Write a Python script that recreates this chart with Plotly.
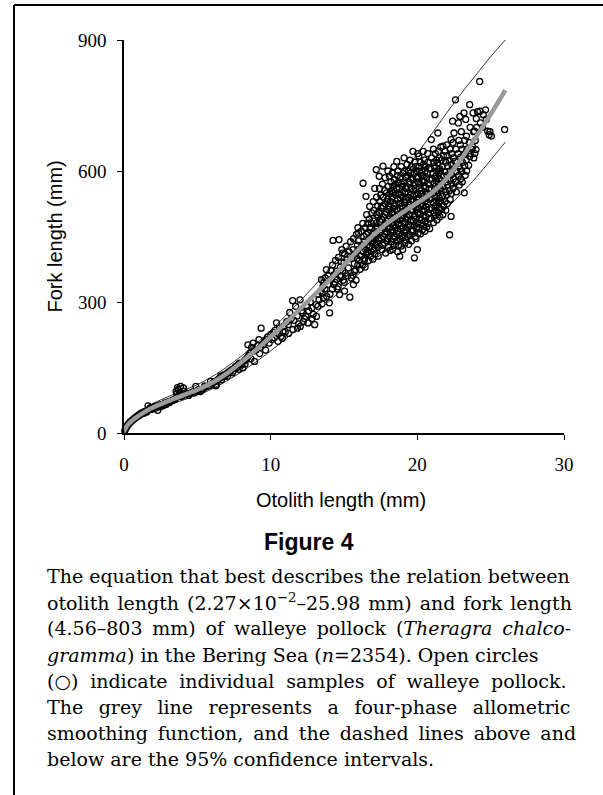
import plotly.graph_objects as go

# ---------------- data ----------------
# small fish, otolith 0-6 mm
juv_otolith = [0.05, 0.1, 0.15, 0.2, 0.25, 0.3, 0.35, 0.4, 0.45, 0.5, 0.55, 0.6, 0.65, 0.7, 0.75, 0.8,
               0.85, 0.9, 0.95, 1.0, 1.05, 1.1, 1.15, 1.2, 1.25, 1.3, 1.35, 1.4, 1.5, 1.55, 1.6, 1.64,
               1.7, 1.75, 1.8, 1.85, 1.9, 2.0, 2.05, 2.1, 2.2, 2.25, 2.3, 2.4, 2.45, 2.5, 2.6, 2.7,
               2.75, 2.8, 2.9, 3.0, 3.1, 3.2, 3.3, 3.4, 3.5, 3.55, 3.6, 3.65, 3.7, 3.8, 3.85, 3.9,
               4.0, 4.05, 4.1, 4.2, 4.3, 4.4, 4.5, 4.7, 4.8, 4.9, 5.0, 5.1, 5.2, 5.3, 5.4, 5.5, 5.6, 5.9]
juv_fork = [5, 9, 12, 15, 18, 20, 22, 24, 26, 27, 29, 30, 32, 33, 35, 36,
            37, 38, 40, 41, 40, 43, 45, 44, 46, 47, 45, 49, 50, 48, 52, 62,
            53, 56, 58, 54, 57, 59, 56, 61, 58, 62, 52, 63, 60, 65, 62, 66,
            64, 69, 66, 71, 70, 73, 75, 76, 78, 95, 90, 104, 99, 92, 107, 83,
            86, 103, 96, 88, 90, 86, 91, 94, 92, 107, 97, 100, 95, 98, 101, 108, 106, 118]

# otolith 5.8-10.5 mm
mid_otolith = [5.8, 6.0, 6.1, 6.2, 6.25, 6.3, 6.4, 6.5, 6.6, 6.65, 6.7, 6.8, 6.9, 7.0, 7.05, 7.1,
               7.2, 7.3, 7.4, 7.45, 7.5, 7.6, 7.7, 7.8, 7.85, 7.9, 8.0, 8.1, 8.2, 8.25, 8.3, 8.4,
               8.45, 8.5, 8.6, 8.65, 8.7, 8.8, 8.85, 8.9, 9.0, 9.1, 9.2, 9.25, 9.3, 9.35, 9.5, 9.6,
               9.65, 9.7, 9.8, 9.9, 10.0, 10.1, 10.2, 10.25, 10.5]
mid_fork = [108, 112, 116, 118, 108, 110, 122, 125, 130, 122, 128, 133, 131, 136, 130, 139,
            141, 144, 138, 142, 148, 152, 150, 157, 146, 160, 156, 149, 165, 158, 168, 172,
            202, 178, 183, 170, 196, 206, 188, 164, 190, 200, 214, 182, 196, 240, 202, 209,
            190, 214, 220, 206, 225, 214, 230, 218, 210]

# otolith 10.3-16 mm
sub_otolith = [10.3, 10.4, 10.5, 10.6, 10.7, 10.8, 10.82, 10.9, 11.0, 11.1, 11.2, 11.22, 11.3, 11.4,
               11.5, 11.52, 11.6, 11.7, 11.8, 11.82, 11.9, 12.0, 12.02, 12.1, 12.2, 12.22, 12.3, 12.4,
               12.5, 12.55, 12.6, 12.7, 12.8, 12.82, 12.9, 13.0, 13.1, 13.12, 13.2, 13.22, 13.3, 13.4,
               13.46, 13.5, 13.52, 13.57, 13.6, 13.62, 13.7, 13.72, 13.8, 13.82, 13.9, 13.92, 14.0,
               14.02, 14.04, 14.1, 14.12, 14.2, 14.22, 14.25, 14.3, 14.32, 14.4, 14.42, 14.5, 14.52,
               14.54, 14.6, 14.62, 14.66, 14.7, 14.72, 14.75, 14.8, 14.82, 14.85, 14.9, 14.92, 14.95,
               15.0, 15.02, 15.04, 15.05, 15.1, 15.15, 15.2, 15.25, 15.3, 15.35, 15.4, 15.42, 15.45,
               15.5, 15.55, 15.6, 15.62, 15.64, 15.65, 15.7, 15.72, 15.75, 15.8, 15.82, 15.85, 15.9,
               15.92, 15.94, 15.95]
sub_fork = [235, 252, 228, 240, 221, 217, 232, 245, 232, 255, 248, 228, 276, 262,
            303, 237, 258, 290, 268, 240, 250, 305, 244, 280, 275, 255, 262, 267,
            290, 252, 280, 300, 286, 262, 272, 248, 294, 267, 318, 290, 305, 325,
            351, 296, 320, 336, 310, 345, 330, 355, 374, 313, 340, 360, 298,
            275, 318, 352, 372, 330, 385, 441, 362, 340, 345, 395, 370, 352,
            330, 335, 402, 443, 317, 360, 380, 358, 392, 420, 412, 372, 350,
            390, 345, 325, 410, 366, 428, 397, 360, 378, 415, 311, 405, 438,
            355, 400, 361, 420, 340, 445, 388, 370, 410, 374, 350, 455, 400,
            430, 385, 470]

# dense adult cluster, otolith 16-26 mm
adult_otolith = [
    16.0, 15.95, 16.05, 16.1, 15.98, 16.22, 16.15, 16.25, 16.18, 16.28, 16.3, 16.35, 16.32, 16.38,
    16.45, 16.42, 16.48, 16.4, 16.44, 16.5, 16.55, 16.52, 16.58, 16.53, 16.62, 16.65, 16.68, 16.6, 16.66,
    16.75, 16.72, 16.78, 16.8, 16.74, 16.82, 16.9, 16.88, 16.95, 16.92, 16.86, 16.97,
    17.0, 17.04, 17.02, 17.06, 16.99, 17.05, 17.1, 17.14, 17.12, 17.16, 17.11,
    17.2, 17.22, 17.25, 17.18, 17.24, 17.21, 17.3, 17.34, 17.28, 17.36, 17.32, 17.33,
    17.4, 17.42, 17.45, 17.38, 17.44, 17.47, 17.41, 17.5, 17.53, 17.56, 17.52, 17.55, 17.58,
    17.66, 17.62, 17.68, 17.64, 17.7, 17.65, 17.69, 17.63, 17.8, 17.77, 17.83, 17.79, 17.85, 17.81, 17.76, 17.84,
    17.9, 17.93, 17.88, 17.95, 17.91, 17.96, 18.0, 18.03, 17.98, 18.05, 18.02, 18.06, 17.99, 18.04,
    18.1, 18.13, 18.08, 18.15, 18.12, 18.09, 18.14, 18.2, 18.23, 18.18, 18.25, 18.22, 18.19, 18.24,
    18.3, 18.33, 18.28, 18.35, 18.32, 18.29, 18.34, 18.31, 18.4, 18.43, 18.38, 18.45, 18.42, 18.39, 18.44, 18.41,
    18.5, 18.53, 18.48, 18.55, 18.52, 18.49, 18.6, 18.63, 18.58, 18.65, 18.62, 18.59, 18.64, 18.61, 18.66,
    18.7, 18.73, 18.68, 18.75, 18.72, 18.69, 18.74, 18.71, 18.8, 18.83, 18.78, 18.85, 18.82, 18.79, 18.84, 18.81,
    18.9, 18.93, 18.88, 18.95, 18.92, 18.89, 18.94, 18.91, 19.0, 19.03, 18.98, 19.05, 19.02, 18.99, 19.04, 19.01,
    19.1, 19.13, 19.08, 19.15, 19.12, 19.09, 19.14, 19.11, 19.16, 19.2, 19.23, 19.18, 19.25, 19.22, 19.19, 19.24,
    19.3, 19.33, 19.28, 19.35, 19.32, 19.29, 19.34, 19.31, 19.4, 19.43, 19.38, 19.45, 19.42, 19.39, 19.44, 19.41,
    19.5, 19.53, 19.48, 19.55, 19.52, 19.49, 19.54, 19.51, 19.6, 19.63, 19.58, 19.65, 19.62, 19.59, 19.64, 19.61,
    19.7, 19.73, 19.68, 19.75, 19.72, 19.69, 19.74, 19.71, 19.8, 19.83, 19.78, 19.85, 19.82, 19.79, 19.84, 19.81, 19.86,
    19.9, 19.93, 19.88, 19.95, 19.92, 19.89, 19.94, 19.91, 20.0, 20.03, 19.98, 20.05, 20.02, 19.99, 20.04, 20.01, 20.06,
    20.1, 20.13, 20.08, 20.15, 20.12, 20.09, 20.14, 20.11, 20.2, 20.23, 20.18, 20.25, 20.22, 20.19, 20.24, 20.21,
    20.3, 20.33, 20.28, 20.35, 20.32, 20.29, 20.34, 20.4, 20.43, 20.38, 20.45, 20.42, 20.39, 20.44, 20.41,
    20.5, 20.53, 20.48, 20.55, 20.52, 20.49, 20.54, 20.51, 20.6, 20.63, 20.58, 20.65, 20.62, 20.59, 20.64,
    20.7, 20.73, 20.68, 20.75, 20.72, 20.69, 20.74, 20.71, 20.8, 20.83, 20.78, 20.85, 20.82, 20.79, 20.84,
    20.95, 20.98, 20.92, 21.0, 20.96, 20.93, 20.99, 20.94, 21.1, 21.13, 21.08, 21.15, 21.12, 21.09, 21.14, 21.11,
    21.2, 21.23, 21.18, 21.25, 21.22, 21.19, 21.24, 21.21, 21.3, 21.33, 21.28, 21.35, 21.32, 21.29, 21.34,
    21.4, 21.43, 21.38, 21.45, 21.42, 21.39, 21.44, 21.41, 21.5, 21.53, 21.48, 21.55, 21.52, 21.49, 21.54,
    21.6, 21.63, 21.58, 21.65, 21.62, 21.59, 21.64, 21.75, 21.78, 21.72, 21.8, 21.76, 21.73, 21.79, 21.74,
    21.9, 21.93, 21.88, 21.95, 21.92, 21.89, 21.94, 22.0, 22.03, 22.06, 22.02, 22.05, 22.01, 22.04,
    22.2, 22.23, 22.18, 22.25, 22.22, 22.19, 22.24, 22.3, 22.33, 22.35, 22.32, 22.36, 22.31,
    22.4, 22.43, 22.45, 22.42, 22.46, 22.44, 22.6, 22.63, 22.58, 22.65, 22.62, 22.66,
    22.8, 22.83, 22.78, 22.85, 22.82, 22.86, 22.9, 22.93, 22.95, 22.92, 22.96,
    23.0, 23.05, 23.08, 23.03, 23.06, 23.2, 23.18, 23.22, 23.25, 23.23, 23.27,
    23.3, 23.35, 23.38, 23.33, 23.36, 23.57, 23.6, 23.55, 23.62, 23.58, 23.5,
    23.8, 23.83, 23.78, 23.85, 23.9, 23.95, 23.92, 23.7, 24.0, 24.05, 24.02, 24.1,
    24.25, 24.27, 24.3, 24.5, 24.45, 24.7, 24.65, 24.8, 24.9, 24.95, 25.05, 25.95, 22.3, 22.5]
adult_fork = [
    458, 420, 395, 375, 440, 430, 405, 385, 462, 480, 572, 450, 415, 395,
    470, 440, 420, 400, 380, 542, 500, 455, 430, 410, 480, 460, 440, 415, 395,
    519, 490, 470, 445, 425, 405, 504, 480, 455, 435, 415, 398,
    530, 510, 485, 462, 440, 420, 560, 470, 450, 430, 410,
    603, 540, 500, 480, 455, 435, 520, 495, 470, 445, 425, 405,
    588, 560, 530, 505, 485, 460, 440, 545, 515, 490, 465, 445, 420,
    611, 570, 540, 520, 495, 470, 450, 430, 585, 555, 525, 500, 478, 455, 435, 412,
    550, 530, 505, 485, 460, 440, 600, 565, 535, 512, 490, 468, 445, 425,
    588, 548, 520, 495, 472, 450, 418, 575, 555, 530, 505, 480, 460, 438,
    595, 565, 540, 515, 490, 465, 445, 420, 610, 580, 550, 525, 500, 475, 452, 430,
    570, 545, 520, 495, 470, 448, 622, 590, 560, 535, 510, 488, 462, 440, 415,
    600, 575, 550, 525, 500, 478, 455, 430, 405, 585, 560, 538, 515, 490, 468, 445,
    610, 570, 545, 520, 498, 475, 452, 428, 420, 595, 565, 540, 515, 492, 470, 448,
    630, 600, 575, 550, 528, 505, 482, 460, 435, 585, 560, 535, 512, 490, 465, 442,
    615, 590, 565, 540, 518, 495, 472, 450, 600, 575, 550, 525, 500, 478, 455, 432,
    625, 595, 570, 545, 522, 498, 475, 452, 610, 585, 560, 535, 512, 488, 465, 440,
    645, 605, 580, 555, 530, 508, 485, 462, 401, 620, 595, 570, 545, 520, 498, 475, 450,
    610, 585, 560, 535, 512, 490, 468, 445, 420, 640, 600, 575, 550, 528, 505, 482, 458,
    634, 610, 585, 560, 538, 515, 492, 470, 620, 595, 570, 548, 525, 502, 480, 456,
    600, 578, 555, 532, 510, 488, 465, 645, 615, 590, 565, 542, 520, 498, 475,
    625, 600, 575, 552, 530, 508, 485, 462, 610, 585, 562, 540, 518, 495, 472,
    640, 620, 595, 570, 548, 525, 502, 480, 605, 580, 558, 535, 512, 490, 468,
    672, 630, 605, 582, 560, 538, 515, 492, 650, 620, 595, 572, 550, 528, 505, 482,
    729, 640, 610, 588, 565, 542, 520, 498, 625, 600, 578, 555, 532, 510, 488,
    687, 645, 618, 595, 572, 550, 528, 505, 630, 605, 582, 560, 538, 515, 495,
    655, 625, 600, 578, 555, 532, 512, 657, 635, 610, 588, 565, 542, 520, 500,
    645, 620, 598, 575, 552, 530, 510, 660, 635, 612, 590, 568, 545, 525,
    454, 650, 625, 600, 578, 555, 535, 496, 640, 615, 592, 570, 548,
    714, 665, 630, 605, 582, 560, 763, 650, 622, 598, 575, 552,
    710, 670, 640, 612, 590, 568, 725, 660, 632, 605, 582,
    690, 650, 620, 598, 575, 550, 733, 670, 640, 612, 590,
    718, 680, 650, 625, 600, 752, 700, 665, 640, 633, 613,
    733, 690, 655, 630, 691, 670, 640, 650, 649, 700, 720, 736,
    805, 737, 710, 729, 700, 718, 740, 691, 683, 690, 680, 695, 672, 687]

# four-phase allometric smoothing curve (grey) and 95% limits
curve_otolith = [0, 0.25, 0.5, 1, 1.5, 2, 3, 4, 5, 6, 7, 8, 9, 10, 11, 12, 13, 14, 15,
                 16, 17, 18, 19, 20, 21, 22, 23, 24, 25, 26]
curve_fork = [4, 18, 27, 40, 50, 59, 73, 86, 99, 115, 136, 162, 190, 220, 251, 284, 317, 350, 385,
              420, 453, 482, 505, 527, 550, 583, 628, 678, 730, 785]
upper_fork = [5, 22, 33, 47, 58, 68, 83, 97, 111, 129, 151, 176, 204, 235, 268, 302, 338, 376, 416,
              458, 502, 548, 594, 640, 686, 733, 778, 820, 862, 900]
lower_fork = [3, 14, 22, 34, 43, 51, 63, 75, 87, 101, 119, 140, 163, 188, 215, 243, 272, 302, 333,
              364, 395, 420, 443, 465, 488, 515, 548, 585, 625, 666]

x_ticks = [0, 10, 20, 30]
y_ticks = [0, 300, 600, 900]

caption_lines = [
    "The equation that best describes the relation between",
    "otolith length (2.27×10<sup>−2</sup>–25.98 mm) and fork length",
    "(4.56–803 mm) of walleye pollock (<i>Theragra chalco-</i>",
    "<i>gramma</i>) in the Bering Sea (<i>n</i>=2354). Open circles",
    "(○) indicate individual samples of walleye pollock.",
    "The grey line represents a four-phase allometric",
    "smoothing function, and the dashed lines above and",
    "below are the 95% confidence intervals.",
]
# word gaps used to approximate the justified setting of the caption
caption_gaps = [" ", " \u200a", " \u2009", " ", " \u2009\u200a", " \u2009\u2009\u200a", " \u200a\u200a", " "]

# ---------------- figure ----------------
W, H = 603, 795
L, R, T, B = 124, 564, 40, 433  # plot area in pixels


def px(xp):
    return (xp - L) / (R - L)


def py(yp):
    return (B - yp) / (B - T)


all_x = juv_otolith + mid_otolith + sub_otolith + adult_otolith
all_y = juv_fork + mid_fork + sub_fork + adult_fork

fig = go.Figure()
fig.add_trace(go.Scatter(
    x=all_x, y=all_y, mode="markers",
    marker=dict(symbol="circle-open", size=6, color="black", line=dict(width=1.3, color="black")),
    cliponaxis=False, showlegend=False, hoverinfo="skip"))
for ys in (upper_fork, lower_fork):
    fig.add_trace(go.Scatter(x=curve_otolith, y=ys, mode="lines",
                             line=dict(color="black", width=0.8, shape="spline", smoothing=0.8),
                             showlegend=False, hoverinfo="skip"))
fig.add_trace(go.Scatter(x=curve_otolith, y=curve_fork, mode="lines",
                         line=dict(color="#9a9a9a", width=4.5, shape="spline", smoothing=0.8),
                         showlegend=False, hoverinfo="skip"))

axis_common = dict(showline=True, linecolor="black", linewidth=1.5, ticks="outside",
                   ticklen=5, tickwidth=1.2, tickcolor="black", showgrid=False, zeroline=False,
                   tickfont=dict(family="Liberation Serif", size=19, color="black"))
fig.update_xaxes(range=[0, 30], tickvals=x_ticks, ticktext=[str(v) for v in x_ticks],
                 ticklabelstandoff=8, **axis_common)
fig.update_yaxes(range=[0, 900], tickvals=y_ticks, ticktext=[str(v) for v in y_ticks],
                 ticklabelstandoff=7, **axis_common)

ann = []
ann.append(dict(text="Fork length (mm)", x=px(54), y=0.5, xref="paper", yref="paper",
                textangle=-90, showarrow=False, xanchor="center", yanchor="middle",
                font=dict(family="Liberation Sans", size=20, color="black")))
ann.append(dict(text="Otolith length (mm)", x=px(341), y=py(500), xref="paper", yref="paper",
                showarrow=False, xanchor="center", yanchor="middle",
                font=dict(family="Liberation Sans", size=20, color="black")))
ann.append(dict(text="<b>Figure 4</b>", x=px(309), y=py(542), xref="paper", yref="paper",
                showarrow=False, xanchor="center", yanchor="middle",
                font=dict(family="Liberation Sans", size=23, color="black")))
for i, line in enumerate(caption_lines):
    # widen only the gaps between words (not inside html tags)
    parts = []
    in_tag = False
    for ch in line:
        if ch == "<":
            in_tag = True
        elif ch == ">":
            in_tag = False
        parts.append(caption_gaps[i] if (ch == " " and not in_tag) else ch)
    text = "".join(parts)
    ann.append(dict(text=text, x=px(45), y=py(576 + 26.2 * i), xref="paper", yref="paper",
                    showarrow=False, xanchor="left", yanchor="middle",
                    font=dict(family="DejaVu Serif", size=19, color="black")))

shapes = [
    dict(type="line", xref="paper", yref="paper", x0=px(14), x1=px(14), y0=py(5), y1=py(800),
         line=dict(color="black", width=2)),
    dict(type="line", xref="paper", yref="paper", x0=px(14), x1=px(610), y0=py(5), y1=py(5),
         line=dict(color="black", width=2)),
]

fig.update_layout(width=W, height=H, margin=dict(l=L, r=W - R, t=T, b=H - B, pad=0),
                  paper_bgcolor="white", plot_bgcolor="white",
                  annotations=ann, shapes=shapes, showlegend=False)

fig.write_html("out.html", config={"displayModeBar": False},
               post_script="document.body.style.margin='0';document.body.style.overflow='hidden';")
